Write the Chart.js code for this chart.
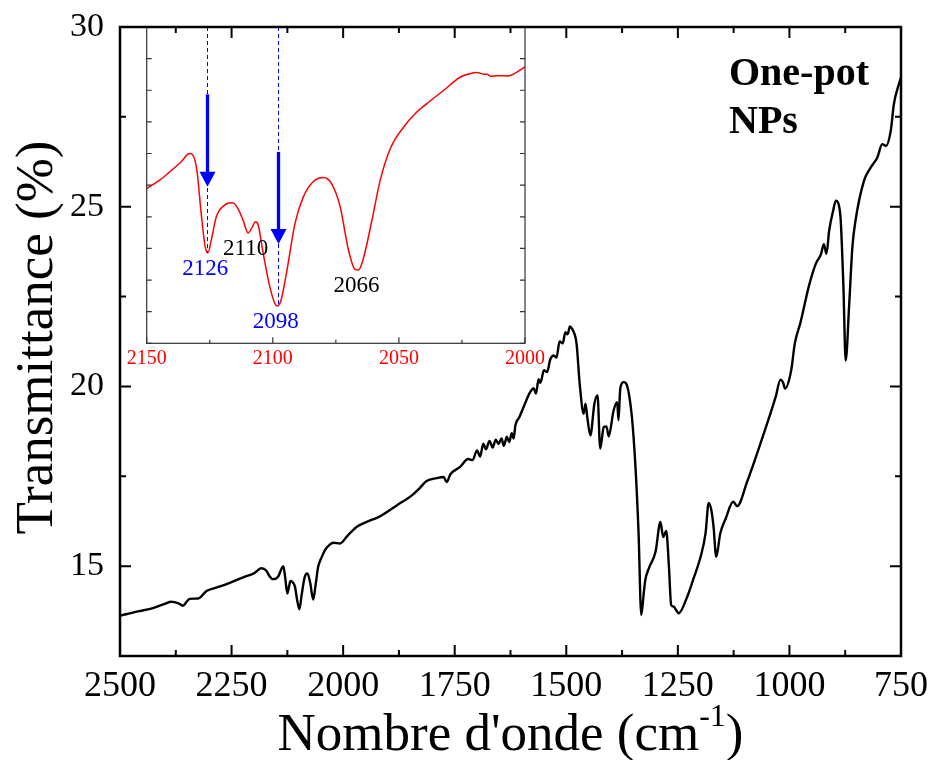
<!DOCTYPE html>
<html lang="fr">
<head>
<meta charset="UTF-8">
<title>Transmittance - One-pot NPs</title>
<script src="https://cdn.jsdelivr.net/npm/chart.js@4.4.3/dist/chart.umd.min.js"></script>
<style>
    * { margin: 0; padding: 0; }
    body { background: #fff; }
    .wrap { position: relative; width: 932px; height: 760px; }
    #mainChart { position: absolute; left: 0; top: 0; z-index: 2; }
    #insetChart { position: absolute; left: 100px; top: 0; z-index: 1; }
</style>
</head>
<body>
<div class="wrap">
    <canvas id="insetChart" width="450" height="380"></canvas>
    <canvas id="mainChart" width="932" height="760"></canvas>
</div>
<script>
// main spectrum (cm-1, %T)
const wavenumber = [
    2500, 2460, 2426, 2400, 2385, 2370, 2359, 2350, 2344, 2325,
    2306, 2285, 2261, 2224, 2200, 2183, 2172, 2165, 2158, 2150,
    2145, 2138, 2134, 2130, 2125, 2121, 2118, 2113, 2108, 2103,
    2098, 2093, 2086, 2080, 2074, 2067, 2062, 2056, 2048, 2041,
    2030, 2022, 2007, 1990, 1970, 1947, 1917, 1880, 1846, 1830,
    1813, 1790, 1775, 1768, 1760, 1738, 1720, 1710, 1700, 1693,
    1686, 1680, 1672, 1665, 1658, 1652, 1645, 1640, 1633, 1628,
    1622, 1618, 1614, 1605, 1595, 1581, 1573, 1568, 1562, 1558,
    1550, 1543, 1536, 1528, 1522, 1515, 1508, 1502, 1497, 1492,
    1488, 1485, 1477, 1470, 1461, 1457, 1453, 1446, 1437, 1430,
    1424, 1416, 1410, 1405, 1394, 1386, 1383, 1379, 1371, 1364,
    1353, 1345, 1338, 1332, 1326, 1323, 1315, 1300, 1289, 1283,
    1276, 1270, 1265, 1259, 1255, 1248, 1229, 1215, 1199, 1188,
    1181, 1175, 1170, 1164, 1155, 1143, 1126, 1117, 1095, 1065,
    1031, 1020, 1014, 1010, 996, 988, 975, 964, 956, 941,
    929, 923, 917, 911, 902, 896, 889, 885, 879, 874,
    866, 859, 852, 833, 818, 803, 792, 784, 773, 766,
    755, 750
];
const transmittance = [
    13.62, 13.74, 13.83, 13.95, 14.01, 13.97, 13.90, 14.02, 14.09, 14.10,
    14.31, 14.40, 14.50, 14.69, 14.80, 14.94, 14.87, 14.72, 14.64, 14.66,
    14.72, 14.93, 15.00, 14.70, 14.24, 14.45, 14.59, 14.55, 14.43, 14.05,
    13.80, 14.20, 14.70, 14.80, 14.55, 14.07, 14.45, 14.98, 15.25, 15.44,
    15.60, 15.65, 15.63, 15.85, 16.09, 16.23, 16.39, 16.69, 16.97, 17.15,
    17.37, 17.45, 17.48, 17.34, 17.55, 17.76, 17.98, 17.95, 18.22, 18.05,
    18.41, 18.25, 18.48, 18.30, 18.52, 18.40, 18.55, 18.35, 18.60, 18.45,
    18.70, 18.55, 18.92, 19.15, 19.45, 19.84, 19.95, 19.80, 20.20, 20.10,
    20.45, 20.40, 20.75, 20.86, 20.80, 21.25, 21.20, 21.51, 21.45, 21.67,
    21.62, 21.56, 21.19, 20.08, 19.24, 19.52, 19.15, 18.64, 19.52, 19.75,
    18.27, 18.87, 18.89, 18.61, 19.33, 19.56, 19.06, 19.94, 20.12, 20.03,
    19.15, 17.76, 15.91, 13.64, 14.30, 14.61, 14.94, 15.40, 16.23, 15.81,
    15.98, 14.98, 13.92, 13.87, 13.80, 13.69, 14.15, 14.65, 15.26, 15.91,
    16.76, 16.56, 16.09, 15.26, 15.91, 16.32, 16.79, 16.67, 17.34, 18.41,
    19.70, 20.19, 20.10, 19.94, 20.45, 21.19, 21.79, 22.39, 22.81, 23.41,
    23.69, 23.96, 23.69, 24.33, 24.89, 25.17, 25.03, 24.61, 22.76, 20.72,
    22.30, 23.87, 24.61, 25.72, 26.09, 26.37, 26.74, 26.69, 27.11, 27.85,
    28.40, 28.59
];
const xTicks = [2500, 2250, 2000, 1750, 1500, 1250, 1000, 750];
const yTicks = [15, 20, 25, 30];

// inset: 2150-2000 cm-1 region (arbitrary units, no labels on y)
const insetWavenumber = [
    2150, 2145, 2141.6, 2136.3, 2133, 2131.7, 2130.1, 2128.4, 2126.8, 2125.7,
    2124.4, 2122.4, 2119.1, 2116, 2113.8, 2111.8, 2109.8, 2108.1, 2106.9, 2105.8,
    2103.8, 2101.2, 2099.2, 2098.3, 2096.9, 2094.6, 2091.2, 2087.9, 2084, 2080,
    2076.7, 2073.3, 2070, 2067.4, 2066, 2064.1, 2060.7, 2057.4, 2053.4, 2048.1,
    2042.8, 2038.9, 2032.2, 2025.6, 2021.6, 2019, 2016.3, 2015, 2013.7, 2011,
    2007, 2003.7, 2000
];
const insetSignal = [
    4.89, 5.15, 5.37, 5.74, 6.00, 5.95, 5.47, 4.11, 3.05, 2.86,
    3.26, 4.00, 4.37, 4.44, 4.26, 3.89, 3.49, 3.68, 3.84, 3.74,
    2.84, 1.79, 1.26, 1.18, 1.32, 2.21, 3.79, 4.63, 5.11, 5.24,
    5.05, 4.32, 2.95, 2.34, 2.32, 2.68, 3.89, 5.16, 6.16, 6.84,
    7.32, 7.58, 8.00, 8.42, 8.53, 8.56, 8.51, 8.51, 8.44, 8.46,
    8.45, 8.55, 8.74
];
const insetXTicks = [2150, 2100, 2050, 2000];
const insetYTicks = [0, 1, 2, 3, 4, 5, 6, 7, 8, 9, 10];

const peakWavenumber = [2126, 2110, 2098, 2066];
const peakSignal = [2.86, 3.49, 1.18, 2.32];
const peakLabel = ['2126', '2110', '2098', '2066'];
const arrowPeaks = ['2126', '2098'];
const arrowStart = [7.87, 6.05];
const arrowEnd = [4.95, 3.14];

const SERIF = "'Liberation Serif', 'Times New Roman', serif";

const midpoints = arr => arr.slice(1).map((v, i) => (v + arr[i]) / 2);

function tickMarks(ctx, scale, values, len, sides, area) {
    values.forEach(v => {
        const p = scale.getPixelForValue(v);
        sides.forEach(side => {
            if (side === 'bottom') { ctx.moveTo(p, area.bottom); ctx.lineTo(p, area.bottom - len); }
            if (side === 'top') { ctx.moveTo(p, area.top); ctx.lineTo(p, area.top + len); }
            if (side === 'left') { ctx.moveTo(area.left, p); ctx.lineTo(area.left + len, p); }
            if (side === 'right') { ctx.moveTo(area.right, p); ctx.lineTo(area.right - len, p); }
        });
    });
}

// labels may overhang the plot edges, the layout padding already leaves room
function noOverhang(s) {
    s.paddingTop = 0;
    s.paddingBottom = 0;
    s.paddingLeft = 0;
    s.paddingRight = 0;
}

const mainDecor = {
    id: 'mainDecor',
    afterDraw(chart) {
        const { ctx, chartArea: a, scales: { x, y } } = chart;
        ctx.save();
        ctx.strokeStyle = '#000';
        ctx.lineWidth = 2;
        ctx.beginPath();
        tickMarks(ctx, x, xTicks, 11, ['bottom', 'top'], a);
        tickMarks(ctx, x, midpoints(xTicks), 6, ['bottom', 'top'], a);
        tickMarks(ctx, y, yTicks, 11, ['left', 'right'], a);
        tickMarks(ctx, y, midpoints(yTicks), 6, ['left', 'right'], a);
        ctx.stroke();

        ctx.lineWidth = 2.5;
        ctx.strokeRect(a.left, a.top, a.right - a.left, a.bottom - a.top);

        // x title with superscript
        ctx.fillStyle = '#000';
        ctx.textBaseline = 'alphabetic';
        ctx.textAlign = 'left';
        const t1 = "Nombre d'onde (cm", t2 = '-1', t3 = ')';
        ctx.font = `53px ${SERIF}`;
        const w1 = ctx.measureText(t1).width, w3 = ctx.measureText(t3).width;
        ctx.font = `32px ${SERIF}`;
        const w2 = ctx.measureText(t2).width;
        const sx = (a.left + a.right) / 2 - (w1 + w2 + w3) / 2;
        const by = chart.height - 10;
        ctx.font = `53px ${SERIF}`;
        ctx.fillText(t1, sx, by);
        ctx.font = `32px ${SERIF}`;
        ctx.fillText(t2, sx + w1, by - 24);
        ctx.font = `53px ${SERIF}`;
        ctx.fillText(t3, sx + w1 + w2, by);

        // y title
        ctx.save();
        ctx.translate(52, (a.top + a.bottom) / 2 - 4);
        ctx.rotate(-Math.PI / 2);
        ctx.textAlign = 'center';
        ctx.fillText('Transmittance (%)', 0, 0);
        ctx.restore();

        // sample label
        ctx.font = `bold 40px ${SERIF}`;
        ctx.fillText('One-pot', a.right - 172, a.top + 58);
        ctx.fillText('NPs', a.right - 172, a.top + 106);
        ctx.restore();
    }
};

const insetDecor = {
    id: 'insetDecor',
    afterDatasetsDraw(chart) {
        const { ctx, chartArea: a, scales: { x, y } } = chart;
        ctx.save();

        // dashed guide lines and arrows for the marked peaks
        arrowPeaks.forEach((lbl, i) => {
            const k = peakLabel.indexOf(lbl);
            const px = x.getPixelForValue(peakWavenumber[k]);
            const dx = Math.round(px) + 0.5; // crisp 1px dashes
            ctx.strokeStyle = '#0000ff';
            ctx.lineWidth = 1;
            ctx.setLineDash([4, 3]);
            ctx.beginPath();
            ctx.moveTo(dx, a.top);
            ctx.lineTo(dx, y.getPixelForValue(peakSignal[k]));
            ctx.stroke();
            ctx.setLineDash([]);

            const y0 = y.getPixelForValue(arrowStart[i]);
            const y1 = y.getPixelForValue(arrowEnd[i]);
            const head = 15, half = 8;
            ctx.lineWidth = 3.3;
            ctx.beginPath();
            ctx.moveTo(dx, y0);
            ctx.lineTo(dx, y1 - head + 1);
            ctx.stroke();
            ctx.fillStyle = '#0000ff';
            ctx.beginPath();
            ctx.moveTo(dx - half, y1 - head);
            ctx.lineTo(dx + half, y1 - head);
            ctx.lineTo(dx, y1);
            ctx.closePath();
            ctx.fill();
        });

        // peak labels
        ctx.font = `23px ${SERIF}`;
        ctx.textAlign = 'center';
        ctx.textBaseline = 'middle';
        peakLabel.forEach((lbl, i) => {
            ctx.fillStyle = arrowPeaks.includes(lbl) ? '#0000ff' : '#000';
            const px = x.getPixelForValue(peakWavenumber[i]);
            const py = y.getPixelForValue(peakSignal[i]);
            ctx.fillText(lbl, px - 2, py + 16);
        });

        // frame and inward ticks
        ctx.strokeStyle = '#333';
        ctx.lineWidth = 1.2;
        ctx.beginPath();
        tickMarks(ctx, x, insetXTicks, 6, ['bottom'], a);
        tickMarks(ctx, x, midpoints(insetXTicks), 3.5, ['bottom'], a);
        tickMarks(ctx, y, insetYTicks, 5, ['left', 'right'], a);
        ctx.stroke();
        ctx.strokeRect(a.left, a.top, a.right - a.left, a.bottom - a.top);
        ctx.restore();
    }
};

new Chart(document.getElementById('insetChart'), {
    type: 'line',
    data: {
        datasets: [{
            data: insetWavenumber.map((w, i) => ({ x: w, y: insetSignal[i] })),
            borderColor: '#ff0000',
            borderWidth: 1.5,
            pointRadius: 0,
            cubicInterpolationMode: 'monotone'
        }]
    },
    options: {
        responsive: false,
        animation: false,
        layout: { padding: { top: 27, right: 25, left: 0, bottom: 0 } },
        plugins: { legend: { display: false }, tooltip: { enabled: false } },
        scales: {
            x: {
                type: 'linear',
                reverse: true,
                min: 2000,
                max: 2150,
                afterBuildTicks: s => { s.ticks = insetXTicks.map(v => ({ value: v })); },
                afterFit: s => { s.height = 36.7; noOverhang(s); },
                grid: { display: false, drawTicks: false },
                border: { display: false },
                ticks: {
                    color: '#ff0000',
                    font: { family: SERIF, size: 20 },
                    padding: 3,
                    maxRotation: 0,
                    autoSkip: false,
                    callback: v => String(v)
                }
            },
            y: {
                type: 'linear',
                min: 0,
                max: 10,
                afterFit: s => { s.width = 46.7; noOverhang(s); },
                grid: { display: false, drawTicks: false },
                border: { display: false },
                ticks: { display: false }
            }
        }
    },
    plugins: [insetDecor]
});

new Chart(document.getElementById('mainChart'), {
    type: 'line',
    data: {
        datasets: [{
            data: wavenumber.map((w, i) => ({ x: w, y: transmittance[i] })),
            borderColor: '#000',
            borderWidth: 2.4,
            pointRadius: 0,
            cubicInterpolationMode: 'monotone'
        }]
    },
    options: {
        responsive: false,
        animation: false,
        layout: { padding: { top: 27, right: 31, left: 0, bottom: 0 } },
        plugins: { legend: { display: false }, tooltip: { enabled: false } },
        scales: {
            x: {
                type: 'linear',
                reverse: true,
                min: 750,
                max: 2500,
                afterBuildTicks: s => { s.ticks = xTicks.map(v => ({ value: v })); },
                afterFit: s => { s.height = 104; noOverhang(s); },
                grid: { display: false, drawTicks: false },
                border: { display: false },
                ticks: {
                    color: '#000',
                    font: { family: SERIF, size: 36 },
                    padding: 9,
                    maxRotation: 0,
                    autoSkip: false,
                    callback: v => String(v)
                }
            },
            y: {
                type: 'linear',
                min: 12.5,
                max: 30,
                afterBuildTicks: s => { s.ticks = yTicks.map(v => ({ value: v })); },
                afterFit: s => { s.width = 120; noOverhang(s); },
                grid: { display: false, drawTicks: false },
                border: { display: false },
                ticks: {
                    color: '#000',
                    font: { family: SERIF, size: 34 },
                    padding: 16,
                    callback: v => String(v)
                }
            }
        }
    },
    plugins: [mainDecor]
});
</script>
</body>
</html>
